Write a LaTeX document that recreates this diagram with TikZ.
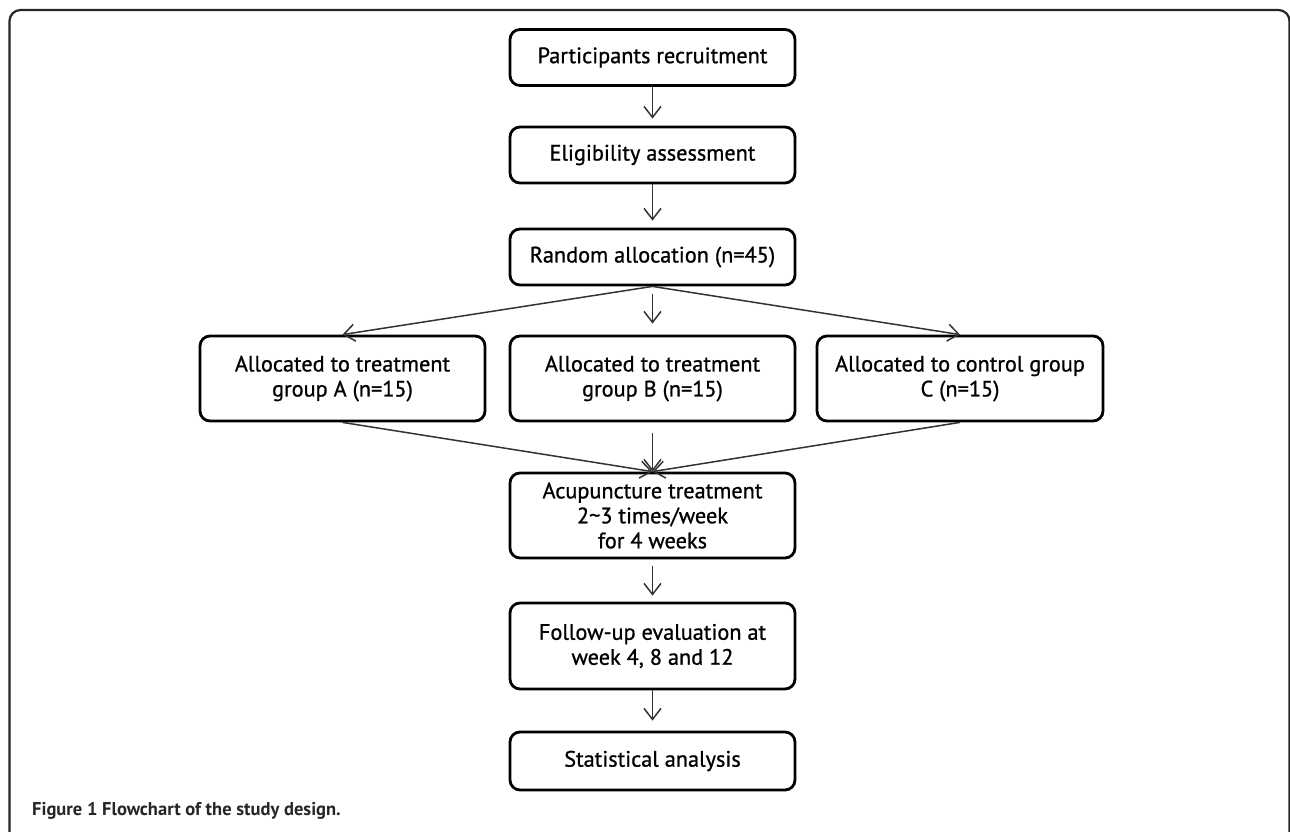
\documentclass[tikz,border=0pt]{standalone}
\usepackage{fontspec}
\setmainfont{PT Sans}[Ligatures={NoCommon}]
\newfontfamily\boxfont{PT Sans}[Ligatures={NoCommon}, FakeBold=0.9]
\usetikzlibrary{arrows.meta}
\tikzset{
  box/.style={draw=black, line width=2.8pt, rounded corners=10pt, align=center,
    inner sep=0pt, minimum width=285pt, text=black,
    font=\boxfont\fontsize{22.3}{25}\selectfont},
  lowbox/.style={box, minimum height=56pt},
  tallbox/.style={box, minimum height=85pt},
  conn/.style={draw=black!80, line width=1.5pt, -{Straight Barb[length=11pt,width=17pt,line width=1.5pt]}},
  frame/.style={draw=black!85, line width=2.2pt, rounded corners=11pt},
}
\begin{document}
\begin{tikzpicture}[x=1pt,y=-1pt]
\useasboundingbox (0,0) rectangle (1290,832);
\begin{scope}
\clip (0,0) rectangle (1290,832);
\draw[frame] (9.5,10) rectangle (1289.5,860);
\end{scope}

\node[lowbox] (rec) at (652.5,57.5) {Participants recruitment};
\node[lowbox] (elig) at (652.5,155) {Eligibility assessment};
\node[lowbox] (rand) at (652.5,257) {Random allocation (n=45)};
\node[tallbox] (ga) at (342.5,378.5) {Allocated to treatment\\group A (n=15)};
\node[tallbox] (gb) at (652.5,378.5) {Allocated to treatment\\group B (n=15)};
\node[tallbox, minimum width=286pt] (gc) at (960,378.5) {Allocated to control group\\C (n=15)};
\node[tallbox] (acu) at (652.5,515.5) {Acupuncture treatment\\2\textasciitilde 3 times/week\\for 4 weeks};
\node[tallbox, minimum height=86pt] (fol) at (652.5,646) {Follow-up evaluation at\\week 4, 8 and 12};
\node[box, minimum height=58pt] (stat) at (652.5,761) {Statistical analysis};

\draw[conn, shorten >=7pt] (rec) -- (elig);
\draw[conn, shorten >=7pt] (elig) -- (rand);
\draw[conn, shorten <=8pt, shorten >=11pt] (rand) -- (gb);
\draw[conn] (rand.south) -- (ga.north);
\draw[conn] (rand.south) -- (gc.north);
\draw[conn] (ga.south) -- (acu.north);
\draw[conn, shorten <=11pt] (gb) -- (acu);
\draw[conn] (gc.south) -- (acu.north);
\draw[conn, shorten <=7pt, shorten >=6pt] (acu) -- (fol);
\draw[conn, shorten >=10pt] (fol) -- (stat);

\node[anchor=base west, inner sep=0pt, font=\fontsize{18.5}{20}\selectfont\bfseries, text=black!85] (cap) at (32,815) {Figure 1 Flowchart of the study design.};
\end{tikzpicture}
\end{document}
